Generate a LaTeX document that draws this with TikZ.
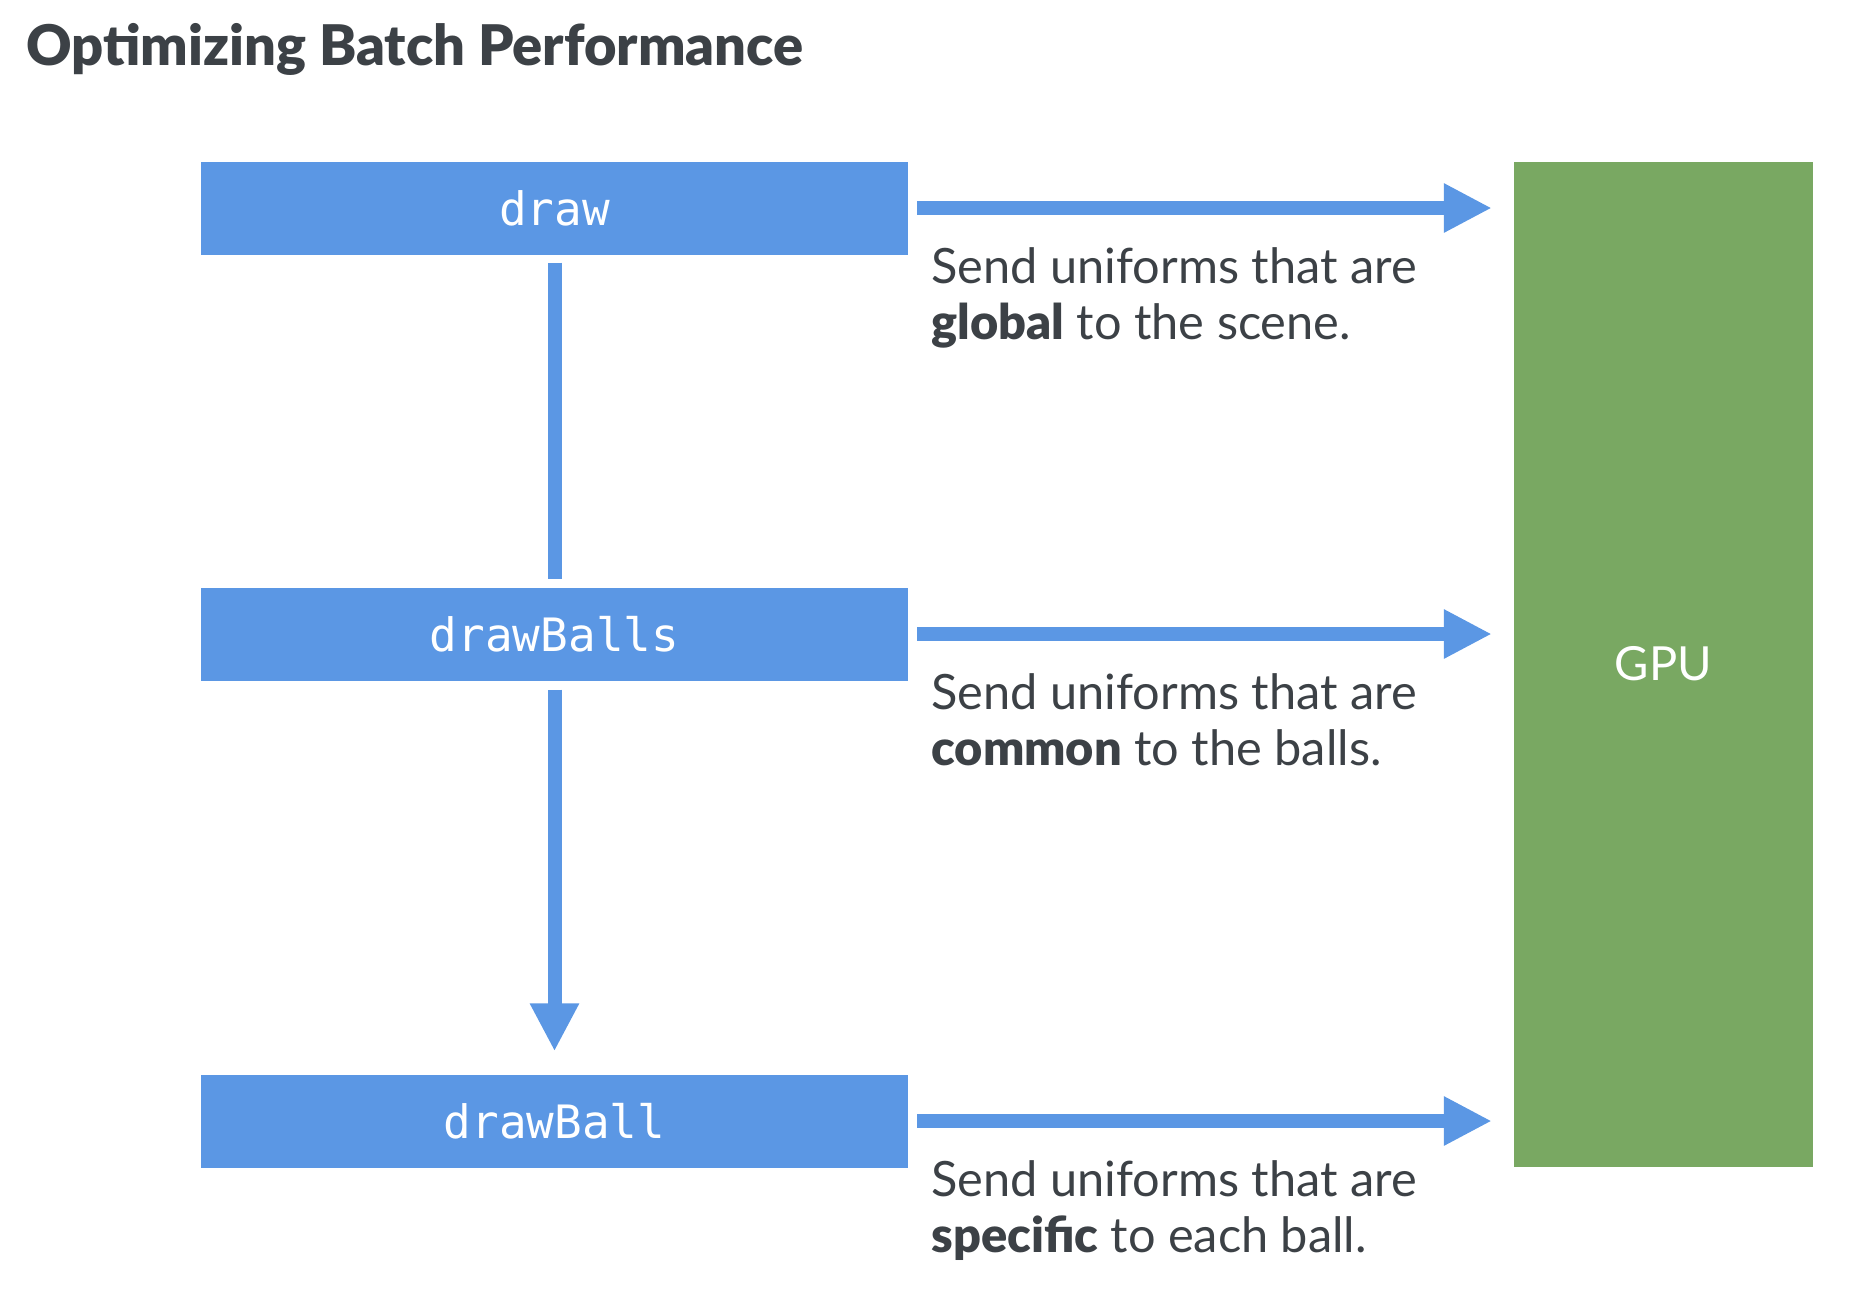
\documentclass[tikz,border=0pt]{standalone}
\usepackage{fontspec}
\setmainfont{Lato}[BoldFont={Lato Black}]
\setmonofont{DejaVu Sans Mono}
\usetikzlibrary{arrows.meta}
\definecolor{callblue}{HTML}{5B97E4}
\definecolor{gpugreen}{HTML}{79A862}
\definecolor{inkgray}{HTML}{3C4146}

\begin{document}
\begin{tikzpicture}[x=1pt,y=-1pt,
  callbox/.style={fill=callblue,minimum width=707pt,minimum height=93pt,inner sep=0pt,
    text=white,font=\ttfamily\fontsize{46}{50}\selectfont},
  flow/.style={draw=callblue,line width=14pt},
  flowhead/.style={flow,-{Triangle[length=48pt,width=46pt]}},
  sendtext/.style={anchor=base west,inner sep=0pt,text=inkgray,font=\fontsize{48.7}{56}\selectfont}]
  \useasboundingbox (0,0) rectangle (1862,1288);
  \node[anchor=base west,inner sep=0pt,text=inkgray,font=\bfseries\fontsize{56}{60}\selectfont]
    (title) at (26,65) {Optimizing Batch Performance};
  % calls
  \node[callbox] (draw) at (554.5,208) {draw};
  \node[callbox] (drawballs) at (554.5,634) {drawBalls};
  \node[callbox] (drawball) at (554.5,1121) {drawBall};
  \node[fill=gpugreen,minimum width=299pt,minimum height=1005pt,inner sep=0pt,
    text=white,font=\fontsize{47}{52}\selectfont] (gpu) at (1663.5,664) {GPU};
  % call chain
  \draw[flow] ([yshift=-8pt]draw.south) -- ([yshift=8pt]drawballs.north);
  \draw[flowhead] ([yshift=-9pt]drawballs.south) -- ([yshift=23pt]drawball.north);
  % uniforms sent to the gpu
  \foreach \src/\word/\rest in {draw/global/the scene.,drawballs/common/the balls.,drawball/specific/each ball.} {
    \draw[flowhead] ([xshift=9pt]\src.east) -- ([xshift=-22pt]\src.east -| gpu.west);
    \node[sendtext] (\src-a) at ([shift={(23,75)}]\src.east) {Send uniforms that are};
    \node[sendtext] (\src-b) at ([shift={(0,56)}]\src-a.base west) {\textbf{\word} to \rest};
  }
\end{tikzpicture}
\end{document}
